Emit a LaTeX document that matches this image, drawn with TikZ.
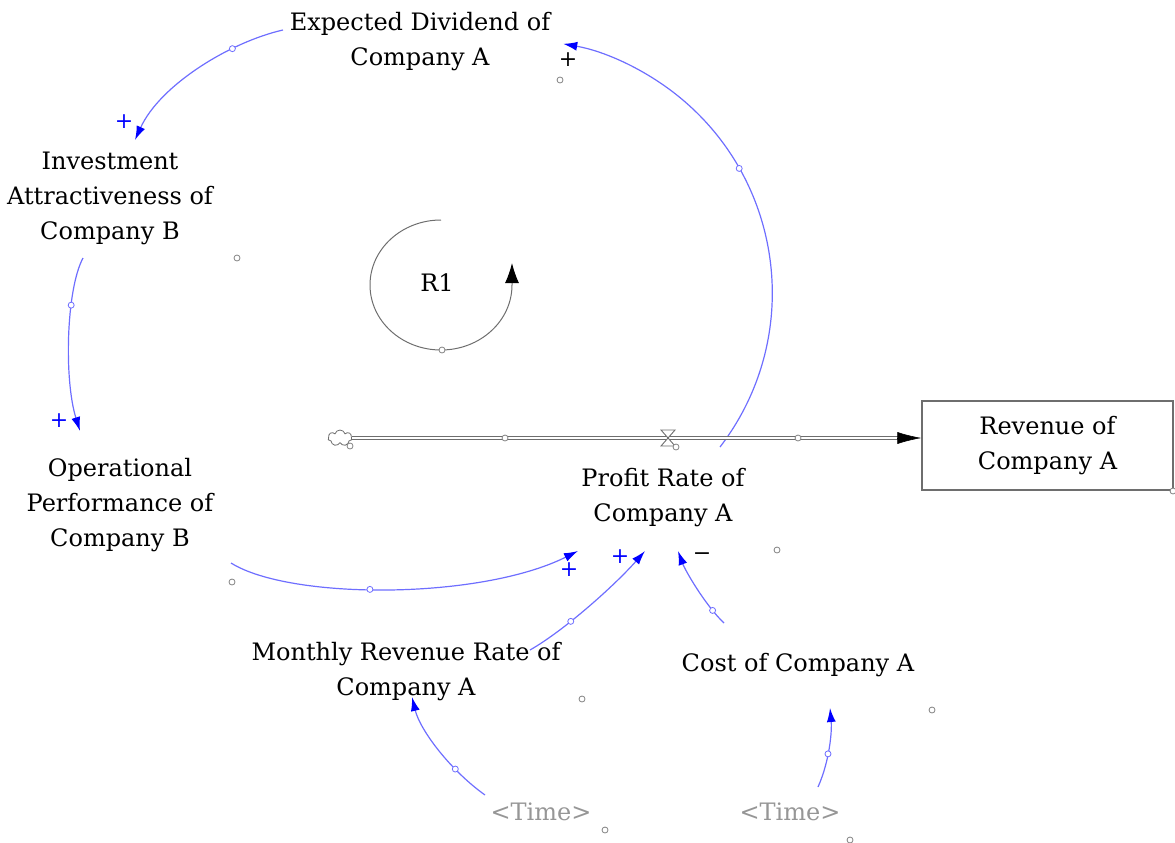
\documentclass[tikz,border=0pt]{standalone}
\usepackage{fontspec}
\setmainfont{DejaVu Serif}
\usetikzlibrary{arrows.meta,shapes.symbols,calc}
\definecolor{linkblue}{RGB}{110,110,255}
\definecolor{tipblue}{RGB}{0,0,255}
\definecolor{handlegray}{RGB}{130,130,130}
\definecolor{timegray}{RGB}{150,150,150}
\definecolor{pipegray}{RGB}{110,110,110}
\begin{document}
\begin{tikzpicture}[x=1pt,y=-1pt,
  var/.style={align=center, inner sep=0pt, font=\fontsize{24}{35}\selectfont},
  stockbox/.style={draw=pipegray, line width=1.3pt, align=center, minimum width=251pt, minimum height=89pt, inner sep=0pt, font=\fontsize{24}{35}\selectfont},
  link/.style={draw=linkblue, line width=1.2pt, -{Latex[length=14pt,width=9pt,color=tipblue]}},
  lhandle/.style={circle, draw=linkblue, fill=white, inner sep=0pt, minimum size=6pt, line width=0.8pt},
  handle/.style={circle, draw=handlegray, fill=white, inner sep=0pt, minimum size=6pt, line width=0.8pt},
  polblue/.style={text=tipblue, font=\fontsize{22}{22}\selectfont, inner sep=0pt},
  polblack/.style={text=black, font=\fontsize{22}{22}\selectfont, inner sep=0pt}]
\useasboundingbox (0,0) rectangle (1175,843);

% variables
\node[var] (exp) at (420,42) {Expected Dividend of\\Company A};
\node[var] (inv) at (110,198) {Investment\\Attractiveness of\\Company B};
\node[var] (ope) at (120,505) {Operational\\Performance of\\Company B};
\node[var] (pro) at (663,498) {Profit Rate of\\Company A};
\node[var] (mon) at (406,672) {Monthly Revenue Rate of\\Company A};
\node[var] (cst) at (798,665) {Cost of Company A};
\node[var, text=timegray] (t1) at (541,812) {<Time>};
\node[var, text=timegray] (t2) at (790,812) {<Time>};
\node[stockbox] (rev) at (1047.5,445.5) {Revenue of\\Company A};
\node[var] (r1) at (437,283) {R1};

% connector end points
\coordinate (expW) at (283,30);
\coordinate (invN) at (135,140);
\coordinate (invS) at (83,258);
\coordinate (opeN) at (80,431);
\coordinate (opeE) at (231,563);
\coordinate (proA) at (578,551);
\coordinate (proB) at (645,551);
\coordinate (proC) at (678,551);
\coordinate (proT) at (720,447);
\coordinate (expE) at (563,44);
\coordinate (monT) at (530,650);
\coordinate (monB) at (412,697);
\coordinate (cstT) at (724,623);
\coordinate (cstB) at (830,708);
\coordinate (t1N) at (485,795);
\coordinate (t2N) at (818,787);

% causal links
\draw[link] (expW) .. controls (230,42) and (160,85) .. node[lhandle, pos=0.3] {} (invN);
\draw[link] (invS) .. controls (66,290) and (64,380) .. node[lhandle, pos=0.33] {} (opeN);
\draw[link] (opeE) .. controls (290,600) and (480,600) .. node[lhandle, pos=0.45] {} (proA);
\draw[link] (monT) .. controls (565,630) and (615,585) .. node[lhandle, pos=0.35] {} (proB);
\draw[link] (cstT) .. controls (705,605) and (685,570) .. node[lhandle, pos=0.2] {} (proC);
\draw[link] (proT) arc[start angle=37.5, end angle=-80, radius=253];
\node[lhandle] at ($(519,293)+(-29.5:253)$) {};
\draw[link] (t1N) .. controls (450,770) and (420,730) .. node[lhandle, pos=0.3] {} (monB);
\draw[link] (t2N) .. controls (830,760) and (832,730) .. node[lhandle, pos=0.4] {} (cstB);

% polarities
\node[polblue] at (124,122) {+};
\node[polblue] at (59,421) {+};
\node[polblue] at (569,570) {+};
\node[polblue] at (620,557) {+};
\node[polblack] at (568,60) {+};
\node[polblack] at (702,557) {−};

% loop marker
\draw[draw=pipegray, line width=1pt, -{Latex[length=20pt,width=14pt,color=black]}]
  (441,220) arc[start angle=270, end angle=0, x radius=71, y radius=65] -- ++(0,-22);
\node[handle] at (442,350) {};

% flow
\node[cloud, cloud puffs=7, draw=pipegray, fill=white, line width=0.8pt, minimum width=24pt, minimum height=16pt, inner sep=0pt] (src) at (340,438) {};
\coordinate (pipeEnd) at ([xshift=-20pt]rev.west |- src.east);
\draw[draw=pipegray, double=white, double distance=1.8pt, line width=0.9pt] (src.east) -- (pipeEnd);
\draw[line width=0.6pt, -{Latex[length=24pt,width=12pt,color=black]}] ([xshift=-24pt]rev.west |- src.east) -- (rev.west |- src.east);
\draw[draw=pipegray, fill=white, line width=0.9pt] (661,430) -- (675,430) -- (661,446) -- (675,446) -- cycle;
\node[handle] at (676,447) {};
\node[handle] at (350,446) {};
\node[handle] at (505,438) {};
\node[handle] at (798,438) {};

% free handles
\foreach \p in {(560,80),(237,258),(232,582),(777,550),(582,699),(932,710),(605,830),(850,840),(1173,491)}
  \node[handle] at \p {};
\end{tikzpicture}
\end{document}
